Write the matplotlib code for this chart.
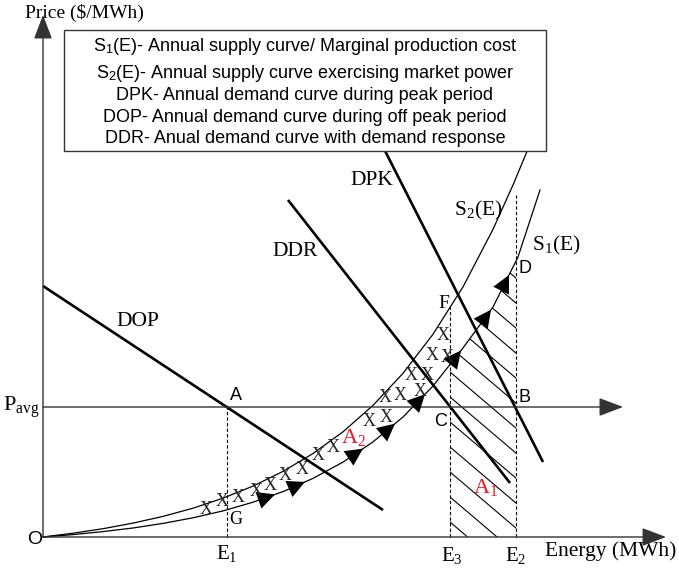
import numpy as np
import matplotlib
matplotlib.use("Agg")
import matplotlib.pyplot as plt
from matplotlib.patches import Rectangle, Polygon

plt.rcParams['mathtext.fontset'] = 'custom'
plt.rcParams['mathtext.rm'] = 'Liberation Serif'
plt.rcParams['mathtext.it'] = 'Liberation Serif:italic'
plt.rcParams['mathtext.sf'] = 'Liberation Sans'

SERIF = 'Liberation Serif'
SANS = 'Liberation Sans'

# ---------------- data (energy, price in arbitrary schematic units) ----------------
s1_energy = [0, 30, 60, 90, 120, 150, 180, 210, 240, 270, 300, 330, 360, 390, 420, 450, 475, 497]
s1_price = [0, 2.4, 5.4, 9.0, 13.6, 19.2, 26.1, 34.8, 45.4, 58.6, 74.9, 95.1, 120, 151, 189, 230, 280, 347]

s2_energy = [0, 30, 60, 90, 120, 150, 180, 210, 240, 270, 300, 330, 360, 390, 420, 450, 470, 490]
s2_price = [0, 3.8, 8.3, 13.9, 20.6, 28.8, 38.8, 50.9, 65.6, 83.5, 105.2, 131.6, 163.7, 202.8, 250.1, 307.7, 352, 400]

dop_energy = [0, 340]
dop_price = [251, 27]
ddr_energy = [245, 467]
ddr_price = [337, 54]
dpk_energy = [335, 500]
dpk_price = [400, 75]

p_avg = 130
E1, E3, E2 = 184, 407, 473
F_price = 230
E2_top = 342

arrow_energy = [232, 262, 320, 352, 382, 418, 448, 466]
x_marks = [(163, 27), (179, 35), (195, 40), (213, 46), (227, 52), (242, 61), (259, 67),
           (275, 82), (290, 89), (326, 116), (343, 120), (342, 140), (357, 141),
           (368, 162), (384, 162), (377, 146), (389, 182), (404, 180), (400, 201)]

legend_lines = [r'S$_\mathsf{1}$(E)- Annual supply curve/ Marginal production cost',
                r'S$_\mathsf{2}$(E)- Annual supply curve exercising market power',
                'DPK- Annual demand curve during peak period',
                'DOP- Annual demand curve during off peak period',
                'DDR- Anual demand curve with demand response']

# ---------------- figure ----------------
fig = plt.figure(figsize=(6.79, 5.69), dpi=100)
ax = fig.add_axes([0, 0, 1, 1])
ax.set_xlim(-43, 636)
ax.set_ylim(-32, 537)
ax.axis('off')

axis_col = '#333333'
aprops = dict(arrowstyle='-|>,head_length=1.0,head_width=0.38', color=axis_col,
              lw=1.0, shrinkA=0, shrinkB=0, mutation_scale=15)
ax.annotate('', xy=(0, 522), xytext=(0, 0), arrowprops=aprops)
ax.annotate('', xy=(623, 0), xytext=(0, 0), arrowprops=aprops)
ax.annotate('', xy=(580, p_avg), xytext=(0, p_avg), arrowprops=aprops)

# dashed verticals
ax.plot([E1, E1], [0, p_avg], ls=(0, (3, 2)), color='black', lw=0.8)
ax.plot([E3, E3], [0, F_price], ls=(0, (3, 2)), color='black', lw=0.8)
ax.plot([E2, E2], [0, E2_top], ls=(0, (3, 2)), color='black', lw=0.8)

# hatched area A1 (between E3 and E2 under S1)
xs = np.linspace(E3, E2, 60)
ys = np.interp(xs, s1_energy, s1_price)
poly = Polygon(np.column_stack([np.r_[E3, xs, E2], np.r_[0, ys, 0]]), closed=True,
               facecolor='none', edgecolor='none')
ax.add_patch(poly)
k = 0.85
for c in np.arange(-60, 420, 25):
    ln, = ax.plot([E3 - 5, E2 + 5], [c + k * 5, c - k * (E2 - E3 + 5)], color='black', lw=0.8)
    ln.set_clip_path(poly)

# supply curves
ax.plot(s1_energy, s1_price, color='black', lw=0.9)
ax.plot(s2_energy, s2_price, color='black', lw=0.9)

# demand lines
for e, p in [(dop_energy, dop_price), (ddr_energy, ddr_price), (dpk_energy, dpk_price)]:
    ax.plot(e, p, color='black', lw=1.9, solid_capstyle='butt')

# arrowheads along S1
for ea in arrow_energy:
    pa = np.interp(ea, s1_energy, s1_price)
    pb = np.interp(ea - 6, s1_energy, s1_price)
    ax.annotate('', xy=(ea, pa), xytext=(ea - 6, pb),
                arrowprops=dict(arrowstyle='-|>,head_length=0.9,head_width=0.45', color='black',
                                lw=0, shrinkA=0, shrinkB=0, mutation_scale=14))

# X marks
for (xx, yy) in x_marks:
    ax.text(xx, yy, 'X', family=SERIF, fontsize=13, ha='center', va='center', color='#222222')

# legend box
ax.add_patch(Rectangle((21, 386), 482, 121, facecolor='white', edgecolor='#333333', lw=1.0, zorder=5))
for t, yy in zip(legend_lines, [491, 464, 442, 420, 399]):
    ax.text(262, yy, t, family=SANS, fontsize=13, ha='center', va='center', zorder=6)

# labels
ax.text(41, 524, 'Price ($/MWh)', family=SERIF, fontsize=14, ha='center', va='center')
ax.text(568, -14, 'Energy (MWh)', family=SERIF, fontsize=15.5, ha='center', va='center')
ax.text(-8, -3, 'O', family=SANS, fontsize=14, ha='center', va='center')
ax.text(-3, p_avg, r'P$_{\rm avg}$', family=SERIF, fontsize=16, ha='right', va='center')
ax.text(E1, -16, r'E$_1$', family=SERIF, fontsize=15, ha='center', va='center')
ax.text(E3 + 2, -18, r'E$_3$', family=SERIF, fontsize=15, ha='center', va='center')
ax.text(E2, -18, r'E$_2$', family=SERIF, fontsize=15, ha='center', va='center')

ax.text(193, 142, 'A', family=SANS, fontsize=13, ha='center', va='center')
ax.text(398, 116, 'C', family=SANS, fontsize=13, ha='center', va='center')
ax.text(481, 139, 'B', family=SANS, fontsize=13, ha='center', va='center')
ax.text(482, 269, 'D', family=SANS, fontsize=13, ha='center', va='center')
ax.text(401, 234, 'F', family=SERIF, fontsize=14, ha='center', va='center')
ax.text(193, 18, 'G', family=SERIF, fontsize=13, ha='center', va='center')

ax.text(95, 215, 'DOP', family=SERIF, fontsize=15.5, ha='center', va='center')
ax.text(252, 286, 'DDR', family=SERIF, fontsize=15.5, ha='center', va='center')
ax.text(329, 357, 'DPK', family=SERIF, fontsize=15.5, ha='center', va='center')
ax.text(435, 327, r'S$_2$(E)', family=SERIF, fontsize=15.5, ha='center', va='center')
ax.text(513, 292, r'S$_1$(E)', family=SERIF, fontsize=15.5, ha='center', va='center')
ax.text(311, 99, r'A$_2$', family=SERIF, fontsize=16, ha='center', va='center', color='#e8191f')
ax.text(443, 50, r'A$_1$', family=SERIF, fontsize=16, ha='center', va='center', color='#e8191f')

fig.savefig('out.png', dpi=100)
